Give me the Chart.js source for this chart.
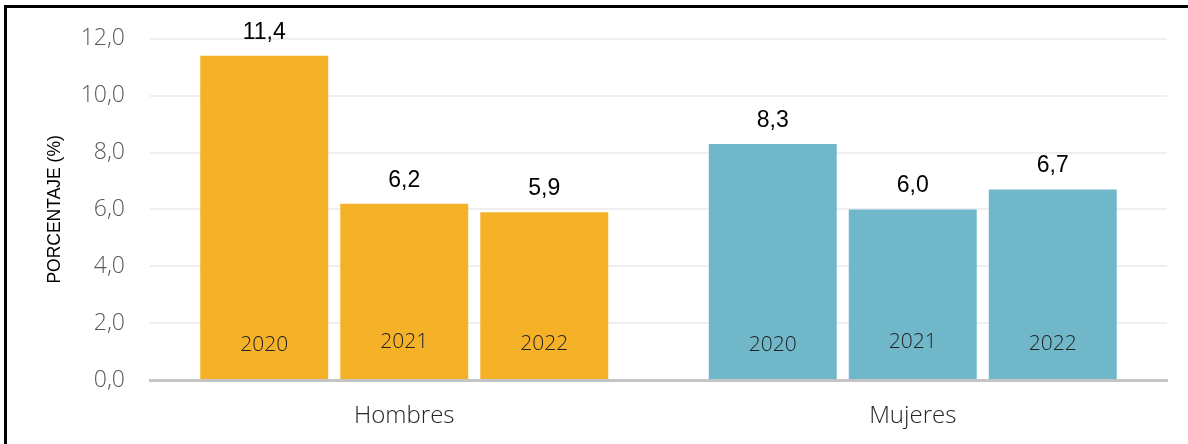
<!DOCTYPE html>
<html>
<head>
<meta charset="utf-8">
<script src="https://cdn.jsdelivr.net/npm/chart.js@4/dist/chart.umd.min.js"></script>
<style>
    html, body { margin: 0; padding: 0; background: #fff; overflow: hidden; }
    #wrap { position: relative; width: 1188px; height: 444px; }
    #frame { position: absolute; left: 4px; top: 5px; width: 1300px; height: 600px; border: 3px solid #000; box-sizing: border-box; pointer-events: none; }
    canvas { position: absolute; left: 0; top: 0; }
</style>
</head>
<body>
<div id="wrap">
    <canvas id="chart" width="1188" height="444"></canvas>
    <div id="frame"></div>
</div>
<script>
// Données
const groupes = ['Hombres', 'Mujeres'];
const annees = ['2020', '2021', '2022'];
const hombres = [11.4, 6.2, 5.9];
const mujeres = [8.3, 6.0, 6.7];
const yTicks = [0, 2, 4, 6, 8, 10, 12];

const couleurs = ['#F5B128', '#70B8C9'];
const decalageAnnee = [35, 38, 36];   // décalage vertical du libellé de l'année
const police = '"Open Sans", sans-serif';
const policeArial = '"Liberation Sans", Arial, sans-serif';

const fmt = v => v.toFixed(1).replace('.', ',');

// Étiquettes : valeur au-dessus de la barre, année à l'intérieur
const etiquettes = {
    id: 'etiquettes',
    afterDatasetsDraw(chart) {
        const ctx = chart.ctx;
        const y0 = chart.scales.y.getPixelForValue(0);
        chart.data.datasets.forEach((ds, i) => {
            chart.getDatasetMeta(i).data.forEach((bar, j) => {
                ctx.save();
                ctx.textAlign = 'center';
                ctx.textBaseline = 'alphabetic';
                ctx.fillStyle = '#000';
                ctx.font = '23px ' + policeArial;
                ctx.fillText(fmt(ds.data[j]), bar.x, bar.y - 17);
                ctx.textBaseline = 'middle';
                ctx.fillStyle = '#222';
                ctx.font = '300 21px ' + police;
                ctx.fillText(ds.label, bar.x, y0 - decalageAnnee[i]);
                ctx.restore();
            });
        });
    }
};

function dessiner() {
    new Chart(document.getElementById('chart'), {
        type: 'bar',
        data: {
            labels: groupes,
            datasets: annees.map((a, i) => ({
                label: a,
                data: [hombres[i], mujeres[i]],
                backgroundColor: couleurs,
                borderWidth: 0,
                categoryPercentage: 0.826,
                barPercentage: 0.914
            }))
        },
        options: {
            responsive: false,
            animation: false,
            layout: { padding: { top: 36, right: 21, left: 0, bottom: 0 } },
            plugins: {
                legend: { display: false },
                tooltip: { enabled: false }
            },
            scales: {
                x: {
                    grid: { display: false, drawTicks: false },
                    border: { display: true, color: '#C4C4C4', width: 3 },
                    ticks: {
                        color: '#262626',
                        padding: 22,
                        font: { family: police, size: 24, weight: '300' }
                    },
                    afterFit: s => { s.height = 64; }
                },
                y: {
                    min: 0,
                    max: 12,
                    afterBuildTicks: s => { s.ticks = yTicks.map(v => ({ value: v })); },
                    grid: {
                        drawTicks: false,
                        lineWidth: 2,
                        color: c => c.tick && c.tick.value === 0 ? 'rgba(0,0,0,0)' : '#EFEFEF'
                    },
                    border: { display: false },
                    ticks: {
                        color: '#595959',
                        padding: 25,
                        font: { family: police, size: 23, weight: '300' },
                        callback: v => fmt(v)
                    },
                    title: {
                        display: true,
                        text: 'PORCENTAJE (%)',
                        color: '#000',
                        padding: { top: 45, bottom: 0 },
                        font: { family: policeArial, size: 17.5 }
                    },
                    afterFit: s => { s.width = 150; }
                }
            }
        },
        plugins: [etiquettes]
    });
}

document.fonts.load('300 20px "Open Sans"').then(dessiner, dessiner);
</script>
</body>
</html>
